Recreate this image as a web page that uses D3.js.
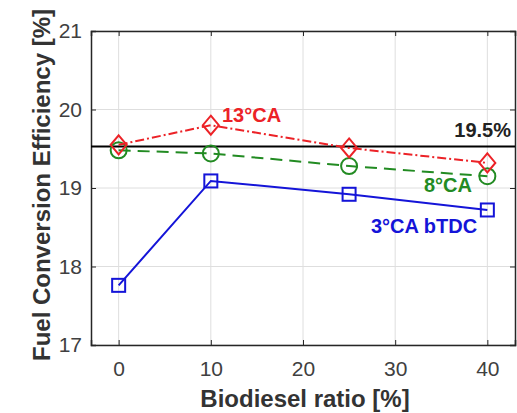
<head>
<meta charset="utf-8">
<style> body { margin: 0; background: #fff; } text { font-family: "Liberation Sans", Arial, sans-serif; } </style>
<script src="https://d3js.org/d3.v7.min.js"></script>
</head>
<body>
<svg id="chart" width="517" height="413"></svg>
<script>
const ratios = [0, 10, 25, 40];
const eff3 = [17.76, 19.09, 18.92, 18.72];
const eff8 = [19.48, 19.44, 19.28, 19.15];
const eff13 = [19.55, 19.80, 19.51, 19.32];
const refLine = 19.53;
const xTicks = [0, 10, 20, 30, 40];
const yTicks = [17, 18, 19, 20, 21];

const svg = d3.select("#chart");
const m = { left: 91, right: 515, top: 31, bottom: 345 };

const x = d3.scaleLinear().domain([-3, 43]).range([m.left, m.right]);
const y = d3.scaleLinear().domain([17, 21]).range([m.bottom, m.top]);

svg.append("rect").attr("width", 517).attr("height", 413).attr("fill", "#fff");

// grid
svg.append("g").selectAll("line").data(xTicks).enter().append("line")
    .attr("x1", d => x(d)).attr("x2", d => x(d))
    .attr("y1", m.top).attr("y2", m.bottom)
    .attr("stroke", "#dedede").attr("stroke-width", 1);
svg.append("g").selectAll("line").data(yTicks).enter().append("line")
    .attr("y1", d => y(d)).attr("y2", d => y(d))
    .attr("x1", m.left).attr("x2", m.right)
    .attr("stroke", "#dedede").attr("stroke-width", 1);

// axes
svg.append("g").attr("transform", `translate(0,${m.bottom})`)
    .call(d3.axisBottom(x).tickValues(xTicks).tickFormat(d3.format("d")).tickSize(-5).tickPadding(16));
svg.append("g").attr("transform", `translate(${m.left},0)`)
    .call(d3.axisLeft(y).tickValues(yTicks).tickFormat(d3.format("d")).tickSize(-5).tickPadding(9));
svg.append("g").attr("transform", `translate(0,${m.top})`)
    .call(d3.axisTop(x).tickValues(xTicks).tickSize(-5).tickFormat(""));
svg.append("g").attr("transform", `translate(${m.right},0)`)
    .call(d3.axisRight(y).tickValues(yTicks).tickSize(-5).tickFormat(""));
svg.selectAll(".domain").attr("stroke", "#262626").attr("stroke-width", 1.5);
svg.selectAll(".tick line").attr("stroke", "#262626");
svg.selectAll(".tick text").attr("font-size", 21).attr("fill", "#404040")
    .style("font-family", "'Liberation Sans', Arial, sans-serif");

// reference line
svg.append("line")
    .attr("x1", m.left).attr("x2", m.right)
    .attr("y1", y(refLine)).attr("y2", y(refLine))
    .attr("stroke", "#000").attr("stroke-width", 2);

const line = d3.line().x((d, i) => x(ratios[i])).y(d => y(d));

function series(vals, color, dash, marker) {
    svg.append("path").datum(vals).attr("d", line)
        .attr("fill", "none").attr("stroke", color).attr("stroke-width", 2)
        .attr("stroke-dasharray", dash);
    const g = svg.append("g");
    vals.forEach((v, i) => {
        const cx = x(ratios[i]), cy = y(v);
        if (marker === "square") {
            g.append("rect").attr("x", cx - 6.5).attr("y", cy - 6.5).attr("width", 13).attr("height", 13)
                .attr("fill", "none").attr("stroke", color).attr("stroke-width", 2);
        } else if (marker === "circle") {
            g.append("circle").attr("cx", cx).attr("cy", cy).attr("r", 8)
                .attr("fill", "none").attr("stroke", color).attr("stroke-width", 2);
        } else {
            g.append("path").attr("d", `M${cx},${cy - 9.5}L${cx + 8},${cy}L${cx},${cy + 9.5}L${cx - 8},${cy}Z`)
                .attr("fill", "none").attr("stroke", color).attr("stroke-width", 2);
        }
    });
}

series(eff8, "#228b22", "12,7", "circle");
series(eff13, "#ec2227", "9,3,2,3", "diamond");
series(eff3, "#1414d8", null, "square");

// labels
function label(txt, px, py, color, anchor) {
    svg.append("text").attr("x", px).attr("y", py).attr("fill", color)
        .attr("font-size", 20).attr("font-weight", "bold")
        .attr("text-anchor", anchor || "start").text(txt);
}
label("13°CA", 222, 122, "#ec2227");
label("19.5%", 511, 137, "#222", "end");
label("8°CA", 424, 192, "#228b22");
label("3°CA bTDC", 371, 233, "#1414d8");

// axis titles
svg.append("text").attr("x", 305).attr("y", 407).attr("text-anchor", "middle")
    .attr("font-size", 24).attr("font-weight", "bold").attr("fill", "#333")
    .text("Biodiesel ratio [%]");
svg.append("text").attr("transform", "translate(50,185) rotate(-90)")
    .attr("text-anchor", "middle")
    .attr("font-size", 24).attr("font-weight", "bold").attr("fill", "#333")
    .text("Fuel Conversion Efficiency [%]");
</script>
</body>
